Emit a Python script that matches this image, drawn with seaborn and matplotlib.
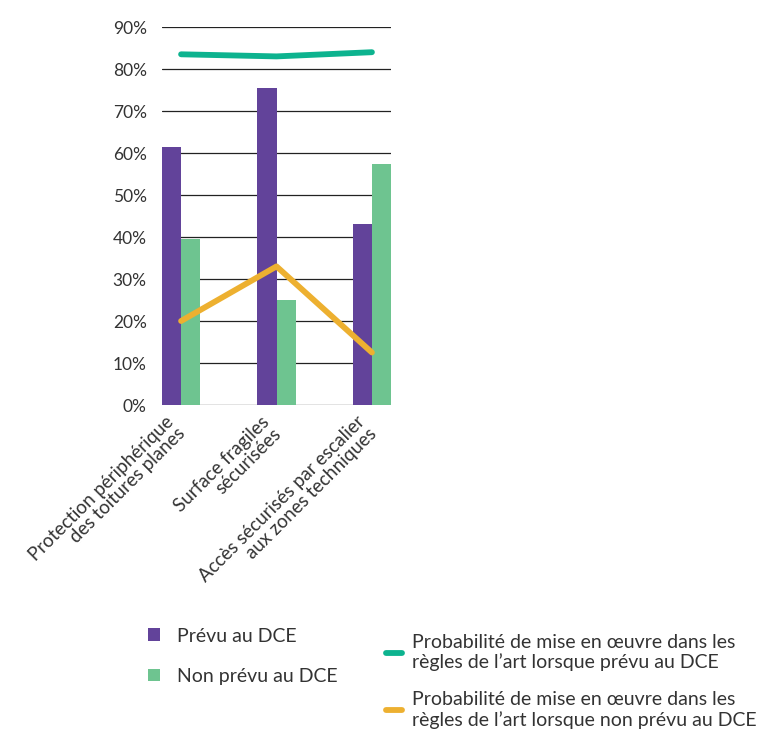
import matplotlib
matplotlib.use("Agg")
import matplotlib.pyplot as plt
import matplotlib.transforms as mtransforms
import seaborn as sns
import numpy as np
import pandas as pd
from matplotlib.patches import Patch
from matplotlib.lines import Line2D

categories = ["Protection périphérique\ndes toitures planes",
              "Surface fragiles\nsécurisées",
              "Accès sécurisés par escalier\naux zones techniques"]
prevu = [61.5, 75.5, 43]
non_prevu = [39.5, 25, 57.5]
proba_prevu = [83.5, 83, 84]
proba_non_prevu = [20, 33, 12.5]
yticks = [0, 10, 20, 30, 40, 50, 60, 70, 80, 90]
series_bars = ["Prévu au DCE", "Non prévu au DCE"]
series_lines = ["Probabilité de mise en œuvre dans les\nrègles de l’art lorsque prévu au DCE",
                "Probabilité de mise en œuvre dans les\nrègles de l’art lorsque non prévu au DCE"]

c_purple = "#62439A"
c_green = "#6EC490"
c_teal = "#0DB38F"
c_orange = "#EDB030"
txt = "#333333"

sns.set_style("white")
plt.rcParams['font.family'] = ['Lato', 'DejaVu Sans']

fig = plt.figure(figsize=(7.61, 7.31), dpi=100)
ax = fig.add_axes([162/761, 1-405/731, 229/761, (405-27)/731])

df = pd.DataFrame({
    "cat": categories * 2,
    "val": prevu + non_prevu,
    "series": [series_bars[0]] * 3 + [series_bars[1]] * 3,
})
for y in yticks:
    ax.axhline(y, color="#222222", lw=0.9, zorder=0)
sns.barplot(data=df, x="cat", y="val", hue="series", palette=[c_purple, c_green],
            width=0.4, saturation=1, ax=ax, legend=False, zorder=2, linewidth=0)

xpos = np.arange(len(categories))
sns.lineplot(x=xpos, y=proba_prevu, color=c_teal, lw=4.2, ax=ax, zorder=3,
             solid_capstyle="round")
sns.lineplot(x=xpos, y=proba_non_prevu, color=c_orange, lw=4.2, ax=ax, zorder=3,
             solid_capstyle="round")

ax.set_xlim(-0.2, 2.2)
ax.set_ylim(0, 90)
ax.set_yticks(yticks)
ax.set_yticklabels([f"{v}%" for v in yticks], fontsize=12.5, color=txt)
ax.tick_params(axis="y", length=0, pad=11)
ax.tick_params(axis="x", length=0, pad=3)
ax.set_xticks(xpos)
ax.set_xticklabels(categories, rotation=45, ha="right", va="top",
                   rotation_mode="anchor", fontsize=13.5, color=txt,
                   multialignment="right", linespacing=0.95)
offset = mtransforms.ScaledTranslation(-16/100, -4/100, fig.dpi_scale_trans)
for lab in ax.get_xticklabels():
    lab.set_transform(lab.get_transform() + offset)
ax.set_xlabel("")
ax.set_ylabel("")
for s in ax.spines.values():
    s.set_visible(False)
ax.patch.set_alpha(0)

h1 = [Patch(facecolor=c_purple, edgecolor="none"), Patch(facecolor=c_green, edgecolor="none")]
leg1 = fig.legend(h1, series_bars, loc="upper left", bbox_to_anchor=(130/761, 1-610/731),
                  frameon=False, fontsize=14, handlelength=0.65, handleheight=0.65,
                  handletextpad=0.85, labelspacing=1.2, labelcolor=txt)
h2 = [Line2D([0], [0], color=c_teal, lw=4.2, solid_capstyle="round"),
      Line2D([0], [0], color=c_orange, lw=4.2, solid_capstyle="round")]
leg2 = fig.legend(h2, series_lines, loc="upper left", bbox_to_anchor=(368/761, 1-616/731),
                  frameon=False, fontsize=14, handlelength=0.85,
                  handletextpad=0.5, labelspacing=1.0, labelcolor=txt)

fig.savefig("out.png", dpi=100)
